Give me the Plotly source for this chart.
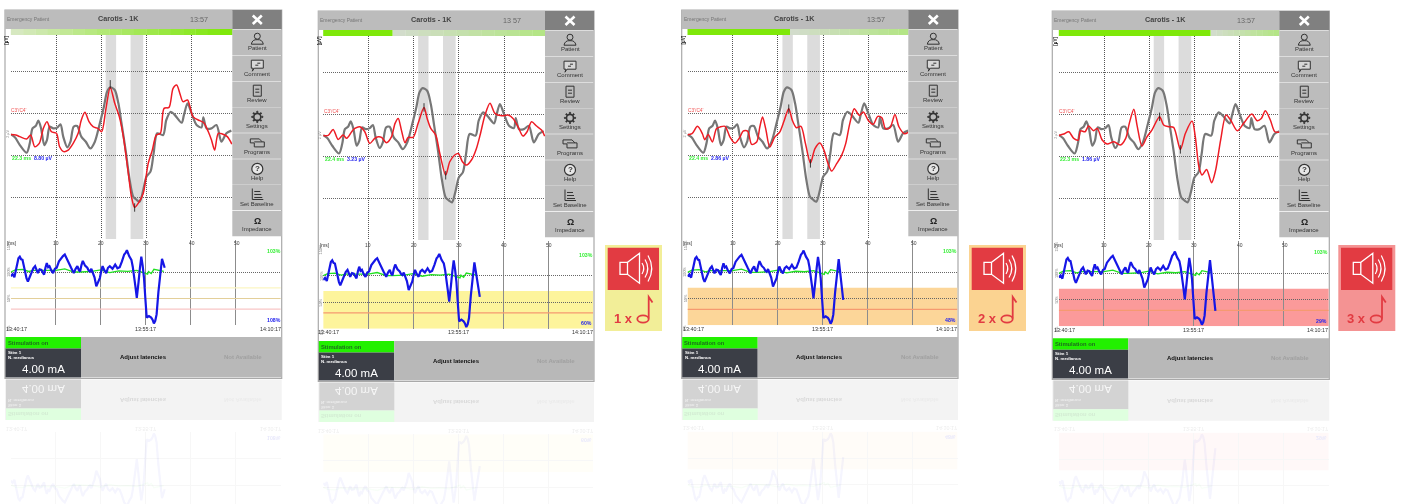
import plotly.graph_objects as go

W, H = 1401, 504

# ---------- data ----------
GRAY_MS = [0,0.9,2.0,3.5,4.2,4.8,5.5,6.1,6.7,7.4,8.0,8.6,9.4,10.3,11.0,11.6,12.5,13.2,13.9,14.7,15.6,16.6,17.6,18.6,19.7,20.6,21.3,22.0,23.0,23.8,24.5,25.4,26.3,27.1,27.9,28.5,29.3,30.0,30.9,31.6,32.4,33.7,34.4,35.4,36.3,37.8,38.3,39.1,40.0,41.1,42.2,42.6,43.3,44.4,45.5,46.6,47.7,48.8]
GRAY_UV = [0.02,-0.19,-0.74,-1.29,-0.62,0.45,0.62,1.0,0.45,-0.74,-0.38,0.57,0.45,0.52,0.74,-0.14,-0.9,-0.5,0.57,0.62,-0.14,-0.5,-0.98,-0.5,0.81,2.0,3.07,3.38,3.19,2.24,0.81,-1.1,-3.24,-4.43,-4.67,-4.79,-3.95,-3.0,-2.64,-1.33,0.1,-0.02,1.05,1.64,1.4,0.86,1.4,2.24,1.52,0.69,0.52,1.24,0.45,0.45,0.69,-0.5,0.1,0.29]

RED1_MS = [0,1.1,2.0,3.5,4.4,5.3,6.3,7.2,8.0,9.0,10.1,10.8,11.7,12.7,13.8,14.9,15.6,16.4,17.3,18.2,19.3,20.1,21.0,22.0,23.0,24.0,24.9,26.0,26.7,27.4,28.4,29.3,30.4,31.3,32.2,33.1,33.9,35.0,35.9,36.7,37.4,38.1,39.1,40.3,41.8,42.7,43.7,44.4,45.1,45.9,46.8,47.9,48.9]
RED1_UV = [0.02,-0.02,-0.14,-0.31,-0.02,-0.86,-0.62,0.45,0.93,0.21,0.1,-0.86,-1.21,-1.1,-0.62,0.1,1.05,1.6,0.93,0.57,0.45,0.21,1.76,3.38,2.24,1.29,-0.14,-2.76,-4.43,-5.19,-4.79,-4.19,-2.05,-1.1,-0.02,0.1,1.88,1.95,3.31,3.55,2.95,2.36,2.48,1.29,1.0,0.86,0.21,-0.38,-1.1,0.1,0.05,-0.14,-0.67]
RED2_MS = [0,1.1,2.2,3.3,4.4,5.2,6.3,7.0,8.1,9.2,10.3,11.4,12.2,12.9,14.0,15.1,15.9,16.6,17.3,18.1,18.8,19.9,21.0,22.3,23.0,23.8,24.9,25.8,27.1,28.0,29.1,29.9,30.8,31.7,32.8,33.9,34.8,35.8,36.9,38.0,39.5,40.9,42.0,43.1,44.2,45.1,46.1,47.2,48.3,49.0]
RED2_UV = [0,0,0.43,-0.29,0.02,-0.21,0.26,0.5,0.62,0.26,-0.57,-0.21,-0.1,-0.14,-0.52,-0.1,0.86,1.21,0.38,-0.52,-0.14,-0.14,0.86,2.0,1.21,0.5,0.02,-1.29,-2.83,-1.88,-1.4,-1.29,-1.88,-2.12,-1.76,-0.93,0.14,1.45,2.29,1.57,1.4,1.45,1.21,0.62,-0.05,0.26,0.98,0.67,0.38,-0.05]
RED3_MS = [0,1.0,2.2,3.3,3.8,4.6,5.5,6.4,7.2,8.3,9.4,10.5,11.6,12.3,13.3,14.2,15.3,16.0,16.6,17.3,18.2,19.3,20.4,21.4,22.4,23.2,24.1,25.1,26.1,27.2,28.2,29.3,30.2,31.1,31.9,33.0,34.1,35.0,35.9,36.9,38.0,38.9,40.0,41.1,42.1,43.0,43.8,44.8,45.9,46.8,48.0,48.8]
RED3_UV = [0,0.07,0.6,0.07,-0.36,0.02,-0.52,0.43,0.55,0.6,-0.17,-0.6,-0.17,0.26,0.26,-0.69,-0.52,0.55,1.26,0.43,-0.88,-0.17,0.19,1.02,1.86,1.02,0.5,0.6,-0.64,-2.02,-1.0,-0.6,-1.12,-2.07,-2.6,-2.07,-1.48,-0.64,0.79,1.86,1.38,1.62,1.02,0.74,1.31,1.21,0.43,0.5,1.45,0.55,0.07,0.17]
RED4_MS = [0,1.1,2.2,3.3,4.3,4.8,5.8,6.6,7.7,8.5,9.6,10.7,12.2,13.6,14.8,15.6,16.6,17.3,18.4,19.5,20.6,22.3,23.2,24.3,25.4,26.9,28.0,29.5,30.2,31.0,31.7,32.7,33.8,34.7,35.8,37.0,38.0,39.5,40.9,42.7,43.9,44.8,45.7,46.8,47.8,48.9]
RED4_UV = [0,0.1,0.26,-0.21,-0.33,0.33,0.26,0.67,0.33,0.5,-0.33,-0.62,-0.45,-0.69,-0.21,0.86,1.86,0.74,-0.76,-0.1,0.38,1.33,0.74,0.62,0.57,-1.0,0.14,1.02,-0.1,-2.24,-2.83,-2.43,-3.38,-2.48,-0.33,1.45,1.1,0.33,0.86,1.52,1.05,1.21,1.76,1.1,0.26,0.24]
RED_MS = [RED1_MS, RED2_MS, RED3_MS, RED4_MS]
RED_UV = [RED1_UV, RED2_UV, RED3_UV, RED4_UV]

PEAK_MS = [[22.0,27.4],[22.3,27.1],[22.4,27.2],[22.3,26.9]]
PEAK_UV = [[3.6,-5.2],[2.0,-2.85],[1.86,-2.05],[1.33,-1.0]]
LATENCY = ["22.3 ms","22.4 ms","22.4 ms","22.3 ms"]
AMPLITUDE = ["8.80 µV","3.23 µV","2.86 µV","1.86 µV"]
CLOCK = ["13:57","13 57","13:57","13:57"]
LAST_PCT = ["108%","60%","48%","29%"]

BLUE_MIN = [0,.2,.4,.55,.7,.85,1.0,1.15,1.3,1.45,1.6,1.75,1.9,2.1,2.3,2.5,2.7,2.85,3.0,3.2,3.4,3.55,3.7,3.85,4.0,4.15,4.3,4.5,4.7,4.9,5.1,5.35,5.6,5.8,6.0,6.2,6.4,6.55,6.7,6.85,7.0,7.2,7.4,7.55,7.7,7.85,8.0,8.25,8.5,8.65,8.8,8.95,9.1,9.3,9.5,9.7,9.9,10.05,10.2,10.4,10.6,10.8,11.0,11.3,11.6,11.85,12.1,12.35,12.6,12.75,12.9,13.15,13.4,13.55,13.7,13.85,14.0,14.1,14.2,14.35,14.5,14.65,14.8,14.95,15.1,15.35,15.6,15.75,15.9,16.05,16.2,16.4,16.6,16.7,16.8]
BLUE_PCT = [92,96,90,104,117,126,129,124,123,110,98,88,82,91,98,107,111,103,98,105,104,99,95,108,117,109,111,103,98,106,108,120,126,130,133,125,117,112,108,103,98,106,111,104,101,113,121,112,108,103,101,106,98,90,73,82,89,102,111,103,98,108,111,106,114,107,109,120,133,136,141,130,123,110,95,72,51,64,82,108,129,112,89,50,14,17,14,10,3,8,20,62,101,116,125]
TAIL_MIN = [17.1,17.4,17.3,17.4]
TAIL_PCT = [108,60,48,29]
GREEN_MIN = [0,0.5,1.3,2,2.5,3,4,5,6,7,7.7,9,10,11,12,13,14,14.8,15.2,15.3,15.6,15.9,16.5,17]
GREEN_PCT = [100,104,105,101,103,103,104,103,106,100,100,101,104,99,102,101,103,98,96,101,97,105,103,101]

BUTTONS = ["Patient","Comment","Review","Settings","Programs","Help","Set Baseline","Impedance"]
TIME_TICKS = ["13:40:17","13:55:17","14:10:17"]
MS_TICKS = [10,20,30,40,50]
PCT_TICKS = ["150%","100%","50%","0%"]

# ---------- geometry and styles ----------
FONT = "Liberation Sans"
PANELS = [
    dict(left=5,    x0=10.8,   btn=232.3,  right=281.7,  dy=0, g100=272.0, stim=337.0, bottom=377.5, solid=None),
    dict(left=318.3,x0=323.2,  btn=545.0,  right=594.0,  dy=1, g100=275.7, stim=341.0, bottom=380.5, solid=392.7),
    dict(left=681.7,x0=687.5,  btn=908.3,  right=958.0,  dy=0, g100=272.3, stim=337.0, bottom=377.5, solid=790.0),
    dict(left=1052.3,x0=1058.8,btn=1279.3, right=1329.3, dy=1, g100=273.3, stim=338.3, bottom=378.5, solid=1210.7),
]
BANDS = [None, "#fdf49c", "#fcd699", "#fb9a9a"]
ALARMS = [None,
    dict(x=605.0, fill="#f2ee98", n="1 x"),
    dict(x=969.0, fill="#fbd391", n="2 x"),
    dict(x=1338.3, fill="#f49393", n="3 x")]
ALARM_RED = "#e23b42"
PX_PER_MS = 4.52
PX_PER_MIN = 9.0
PX_PER_PCT = 0.53
DOTS = "1px,1px"

shapes, annos, traces, flip_idx = [], [], [], []
layout = {}

def fx(x): return x / W
def fy(y): return 1 - y / H

def rect(x0, y0, x1, y1, fill, layer="below", line=None, lw=0):
    shapes.append(dict(type="rect", xref="paper", yref="paper", x0=fx(x0), x1=fx(x1), y0=fy(y1), y1=fy(y0),
                       fillcolor=fill, line=dict(width=lw, color=line or fill), layer=layer))

def path(d, color, lw=1, fill=None, layer="above"):
    parts = []
    for p in d:
        if isinstance(p, str):
            parts.append(p)
        else:
            parts.append(f"{fx(p[0]):.5f},{fy(p[1]):.5f}")
    shapes.append(dict(type="path", xref="paper", yref="paper", path=" ".join(parts), layer=layer,
                       line=dict(color=color, width=lw), fillcolor=fill or "rgba(0,0,0,0)"))

def ell(cx, cy, rx, ry, color, lw=1, fill=None):
    shapes.append(dict(type="circle", xref="paper", yref="paper", x0=fx(cx-rx), x1=fx(cx+rx), y0=fy(cy+ry), y1=fy(cy-ry),
                       line=dict(color=color, width=lw), fillcolor=fill or "rgba(0,0,0,0)", layer="above"))

def txt(x, y, s, size, color, bold=False, anchor="center", angle=0, flip=False):
    annos.append(dict(xref="paper", yref="paper", x=fx(x), y=fy(y), text=f"<b>{s}</b>" if bold else s,
                      showarrow=False, xanchor=anchor, yanchor="middle", textangle=angle,
                      font=dict(family=FONT, size=size, color=color), borderpad=0, borderwidth=0))
    if flip:
        flip_idx.append(len(annos) - 1)

def mix(a, b, t):
    ca = [int(a[i:i+2], 16) for i in (1, 3, 5)]
    cb = [int(b[i:i+2], 16) for i in (1, 3, 5)]
    return "#%02x%02x%02x" % tuple(round(u + (v - u) * t) for u, v in zip(ca, cb))

def axes(n, xr, yr, xpx, ypx, xgrid, ygrid, xdash, ydash, xcol, ycol):
    suffix = "" if n == 1 else str(n)
    layout["xaxis" + suffix] = dict(domain=[fx(xpx[0]), fx(xpx[1])], range=xr, anchor="y" + suffix,
        tickvals=xgrid, showticklabels=False, ticks="", showgrid=True, griddash=xdash, gridcolor=xcol,
        gridwidth=1, zeroline=False, showline=False, fixedrange=True)
    layout["yaxis" + suffix] = dict(domain=[fy(ypx[1]), fy(ypx[0])], range=yr, anchor="x" + suffix,
        tickvals=ygrid, showticklabels=False, ticks="", showgrid=True, griddash=ydash, gridcolor=ycol,
        gridwidth=1, zeroline=False, showline=False, fixedrange=True)
    return ("x" + suffix, "y" + suffix)

def button_icon(i, cx, cy):
    c = "#333333"
    if i == 0:
        ell(cx, cy-3, 3, 3, c)
        path(["M", (cx-6, cy+5), "Q", (cx-5, cy), (cx, cy+0.5), "Q", (cx+5, cy), (cx+6, cy+5), "Z"], c)
    elif i == 1:
        path(["M", (cx-6, cy-5), "L", (cx+6, cy-5), "L", (cx+6, cy+3), "L", (cx-3, cy+3), "L", (cx-5, cy+6), "L", (cx-4, cy+3), "L", (cx-6, cy+3), "Z"], c, fill="#d8d8d8")
        path(["M", (cx-2, cy), "L", (cx+1, cy), "M", (cx, cy-2), "L", (cx+3, cy-2)], c)
    elif i == 2:
        path(["M", (cx-4, cy-6), "L", (cx+4, cy-6), "L", (cx+4, cy+5), "L", (cx-4, cy+5), "Z",
              "M", (cx-2, cy-2), "L", (cx+2, cy-2), "M", (cx-2, cy+1), "L", (cx+2, cy+1)], c)
    elif i == 3:
        ell(cx, cy, 3.5, 3.5, c, 1.6)
        for dx, dy in [(0,-5),(0,5),(5,0),(-5,0),(3.5,3.5),(-3.5,3.5),(3.5,-3.5),(-3.5,-3.5)]:
            ell(cx+dx, cy+dy, .7, .7, c, 1, c)
    elif i == 4:
        path(["M", (cx-7, cy-4), "L", (cx+2, cy-4), "L", (cx+5, cy-1), "L", (cx+7, cy-1), "L", (cx+7, cy+4), "L", (cx-3, cy+4), "L", (cx-3, cy), "L", (cx-7, cy), "Z",
              "M", (cx-3, cy-1), "L", (cx+5, cy-1)], c)
    elif i == 5:
        ell(cx, cy, 5.5, 5.5, c, 1.2, "#e6e6e6")
        txt(cx, cy, "?", 8, c, True)
    elif i == 6:
        path(["M", (cx-5, cy-6), "L", (cx-5, cy+5), "L", (cx+6, cy+5),
              "M", (cx-3, cy-3), "L", (cx+3, cy-3), "M", (cx-3, cy), "L", (cx+4, cy), "M", (cx-3, cy+3), "L", (cx+5, cy+3)], c)
    else:
        txt(cx, cy, "Ω", 9, "#222222", True)

for k, p in enumerate(PANELS):
    dy, x0, btn, right, left = p["dy"], p["x0"], p["btn"], p["right"], p["left"]
    # chrome
    rect(left, 10+dy, right, p["bottom"]+1, "#ffffff", line="#a9a9a9", lw=1.2)
    rect(left, 10+dy, btn, 29+dy, "#bcbcbc")
    rect(btn, 10+dy, right, 29+dy, "#808080")
    path(["M", (btn+20.5, 15.5+dy), "L", (btn+29.5, 24+dy), "M", (btn+29.5, 15.5+dy), "L", (btn+20.5, 24+dy)], "#ffffff", 2.6)
    txt(left+2, 19.5+dy, "Emergency Patient", 5, "#777777", anchor="left")
    txt(left+113, 19+dy, "Carotis - 1K", 7.2, "#444444", True)
    txt(left+194, 19.5+dy, CLOCK[k], 7.2, "#666666")
    # progress bar
    if p["solid"] is None:
        steps, a, b, start = 18, "#d6e8c0", "#7fe80a", x0
    else:
        rect(x0, 29+dy, p["solid"], 35+dy, "#7fe80a")
        steps, a, b, start = 12, "#d2dccb", "#b4e586", p["solid"]
    for s in range(steps):
        xa = start + (btn - start) * s / steps
        xb = start + (btn - start) * (s + 1) / steps
        rect(xa, 29+dy, xb+0.3, 35+dy, mix(a, b, s / (steps - 1)))
    # buttons
    tops = [29, 55, 81, 106.7, 132.7, 158.7, 184.3, 210.3]
    for i, name in enumerate(BUTTONS):
        rect(btn, tops[i]+dy+0.6, right, tops[i]+dy+26, "#bcbcbc")
        txt(btn+25, tops[i]+19.2+dy, name, 6, "#333333")
        button_icon(i, btn+25, tops[i]+10.2+dy)
    # upper chart
    n = 3 * k + 1
    up_top, up_bot = 35+dy, 239+dy
    zero_y = 134.7 + dy * 0.7
    xa, ya = axes(n, [0, (btn-x0)/PX_PER_MS], [(zero_y-up_bot)/14, (zero_y-up_top)/14],
                  (x0, btn), (up_top, up_bot), MS_TICKS, [-4.5,-1.5,1.5,4.5], DOTS, DOTS, "#555555", "#666666")
    for a0, a1 in [(21.0, 23.3), (26.5, 29.3)]:
        shapes.append(dict(type="rect", xref=xa, yref=ya+" domain", x0=a0, x1=a1, y0=0, y1=1,
                           fillcolor="#dcdcdc", line=dict(width=0), layer="below"))
    traces.append(go.Scatter(x=GRAY_MS, y=GRAY_UV, xaxis=xa, yaxis=ya, mode="lines",
                             line=dict(color="#777777", width=2.2, shape="spline", smoothing=0.8)))
    traces.append(go.Scatter(x=RED_MS[k], y=RED_UV[k], xaxis=xa, yaxis=ya, mode="lines",
                             line=dict(color="#ee1c25", width=1.5, shape="spline", smoothing=0.8)))
    traces.append(go.Scatter(x=PEAK_MS[k], y=PEAK_UV[k], xaxis=xa, yaxis=ya, mode="markers",
                             marker=dict(symbol="line-ns-open", size=6, line=dict(color="#111111", width=0.8), color="#111111")))
    txt(x0-4, 40+dy, "[µV]", 4.6, "#111111", True, angle=-90)
    txt(x0+0.3, 110.5+dy, "C3'/C4'", 4.8, "#f05050", anchor="left")
    txt(x0-3, 134+dy, "2 µV", 3.8, "#888888", angle=-90)
    txt(x0+1.5, 158+dy, LATENCY[k], 5.2, "#33ee33", True, anchor="left")
    txt(x0+23.5, 158+dy, AMPLITUDE[k], 5.2, "#2222ee", True, anchor="left")
    # lower chart
    g0 = p["g100"] + 100 * PX_PER_PCT
    low_top = 240 + dy
    xb, yb = axes(n+1, [0, 30], [0, (g0-low_top)/PX_PER_PCT], (x0, x0+270), (low_top, g0),
                  [5,10,15,20,25], [50,100], "solid", DOTS, "#8c8c8c", "#666666")
    if BANDS[k]:
        shapes.append(dict(type="rect", xref=xb, yref=yb, x0=0, x1=30, y0=0, y1=71,
                           fillcolor=BANDS[k], line=dict(width=0), layer="below"))
        lines = [(30, "#f59a70", 1.2)]
    else:
        lines = [(70, "#fbf6c2", 1.2), (30, "#f9c6c6", 1.2), (50, "#e3cf9a", 1.2)]
    for v, c, w in lines:
        shapes.append(dict(type="line", xref=xb, yref=yb, x0=0, x1=30, y0=v, y1=v, line=dict(color=c, width=w), layer="between"))
    traces.append(go.Scatter(x=GREEN_MIN, y=GREEN_PCT, xaxis=xb, yaxis=yb, mode="lines", line=dict(color="#22e022", width=1.3)))
    traces.append(go.Scatter(x=BLUE_MIN+[TAIL_MIN[k]], y=BLUE_PCT+[TAIL_PCT[k]], xaxis=xb, yaxis=yb, mode="lines", line=dict(color="#1616e6", width=2.2)))
    txt(left+1.5, 243+dy*2, "[ms]", 4.8, "#333333", anchor="left")
    for m in MS_TICKS:
        txt(x0 + m*PX_PER_MS, 243+dy*2, str(m), 5, "#444444")
    txt(right-8, 251+(p["g100"]-272), "103%", 5.2, "#33ee33", True)
    txt(right-8, g0-5.5, LAST_PCT[k], 5.2, "#2222ee", True)
    for lab, v in zip(PCT_TICKS, [150, 100, 50, 0]):
        txt(x0-2, g0-v*PX_PER_PCT+(3 if v == 0 else 0), lab, 3.8, "#777777", angle=-90)
    for lab, xp, an in zip(TIME_TICKS, [x0-5, x0+135, right-1], ["left", "center", "right"]):
        txt(xp, g0+3.5, lab, 5.4, "#333333", anchor=an)
    # footer
    st, bo = p["stim"], p["bottom"]
    rect(left+0.5, st, left+76, st+11.5, "#22f000")
    rect(left+0.5, st+11.5, left+76, bo, "#3b3e46")
    rect(left+76, st, right, bo, "#b8b8b8")
    txt(left+2.5, st+6, "Stimulation on", 5.8, "#1f6b1f", True, anchor="left")
    txt(left+3, st+15, "Stim 1", 4.4, "#ffffff", True, anchor="left")
    txt(left+3, st+20, "N. medianus", 4.4, "#ffffff", True, anchor="left")
    txt(left+38, st+31.5, "4.00 mA", 11.5, "#ffffff")
    txt(left+138, st+20, "Adjust latencies", 6, "#111111", True)
    txt(left+238, st+20, "Not Available", 6, "#a0a0a0", True)
    # reflection
    mirror = bo + 1
    ry = lambda v: 2 * mirror - v
    rect(left, ry(bo), right, ry(st), "#f3f3f3")
    rect(left+1, ry(bo), left+76, ry(st+11.5), "#d3d3d3")
    rect(left+1, ry(st+11.5), left+76, ry(st), "#dfffdf")
    txt(left+38, ry(st+31.5), "4.00 mA", 11.5, "#f6f6f6", flip=True)
    txt(left+3, ry(st+20), "N. medianus", 4.4, "#ececec", True, anchor="left", flip=True)
    txt(left+3, ry(st+15), "Stim 1", 4.4, "#ececec", True, anchor="left", flip=True)
    txt(left+2.5, ry(st+6), "Stimulation on", 5.8, "#d3ecd3", True, anchor="left", flip=True)
    txt(left+138, ry(st+20), "Adjust latencies", 6, "#d8d8d8", True, flip=True)
    txt(left+238, ry(st+20), "Not Available", 6, "#ebebeb", True, flip=True)
    for lab, xp, an in zip(TIME_TICKS, [x0-5, x0+135, right-1], ["left", "center", "right"]):
        txt(xp, ry(g0+3.5), lab, 5.4, "#ededed", anchor=an, flip=True)
    txt(right-8, ry(g0-5.5), LAST_PCT[k], 5.2, "#e8e8fb", True, flip=True)
    r0 = ry(g0)
    xc, yc = axes(n+2, [0, 30], [(H-r0)/PX_PER_PCT, 0], (x0, x0+270), (r0, H),
                  [5,10,15,20,25], [50,100], "solid", "solid", "#f7f7f7", "#f7f7f7")
    if BANDS[k]:
        shapes.append(dict(type="rect", xref=xc, yref=yc, x0=0, x1=30, y0=0, y1=71,
                           fillcolor=BANDS[k], opacity=0.07, line=dict(width=0), layer="below"))
    traces.append(go.Scatter(x=GREEN_MIN, y=GREEN_PCT, xaxis=xc, yaxis=yc, mode="lines", line=dict(color="rgba(34,224,34,0.03)", width=1.3)))
    traces.append(go.Scatter(x=BLUE_MIN+[TAIL_MIN[k]], y=BLUE_PCT+[TAIL_PCT[k]], xaxis=xc, yaxis=yc, mode="lines", line=dict(color="rgba(22,22,230,0.045)", width=2.2)))
    # alarm tile
    al = ALARMS[k]
    if al:
        ax = al["x"]
        rect(ax, 245, ax+57, 331, al["fill"])
        rect(ax+2.7, 247.7, ax+54, 290, ALARM_RED)
        path(["M", (ax+15, 262.3), "L", (ax+22.5, 262.3), "L", (ax+34.5, 253.3), "L", (ax+34.5, 283.3), "L", (ax+22.5, 274.3), "L", (ax+15, 274.3), "Z",
              "M", (ax+22.5, 262.3), "L", (ax+22.5, 274.3)], "#ffffff", 1.3)
        path(["M", (ax+37, 263), "Q", (ax+40.5, 268.5), (ax+37, 274)], "#ffffff", 1.2)
        path(["M", (ax+40, 259.5), "Q", (ax+45.5, 268.5), (ax+40, 277.5)], "#ffffff", 1.2)
        path(["M", (ax+43, 255.5), "Q", (ax+50.5, 268.5), (ax+43, 281.5)], "#ffffff", 1.2)
        txt(ax+18, 318, al["n"], 13, ALARM_RED, True)
        ell(ax+38, 319, 5.7, 3.6, ALARM_RED, 1.8)
        path(["M", (ax+43.7, 318.5), "L", (ax+43.7, 297), "L", (ax+47.5, 302.5)], ALARM_RED, 1.8)

fig = go.Figure(data=traces)
fig.update_layout(**layout)
fig.update_layout(width=W, height=H, autosize=False, margin=dict(l=0, r=0, t=0, b=0), showlegend=False,
                  paper_bgcolor="#ffffff", plot_bgcolor="rgba(0,0,0,0)", shapes=shapes, annotations=annos,
                  font=dict(family=FONT), hovermode=False)

post = """
document.body.style.margin = '0';
document.body.style.background = '#ffffff';
var gd = document.getElementById('{plot_id}');
gd.style.filter = 'blur(0.45px)';
%s.forEach(function (i) {
  var g = gd.querySelector('g.annotation[data-index="' + i + '"]');
  if (g) { g.style.transformBox = 'fill-box'; g.style.transformOrigin = 'center'; g.style.transform = 'scaleY(-1)'; }
});
""" % str(flip_idx)
fig.write_html("out.html", include_plotlyjs=True, post_script=post, config={"displayModeBar": False, "staticPlot": True})
